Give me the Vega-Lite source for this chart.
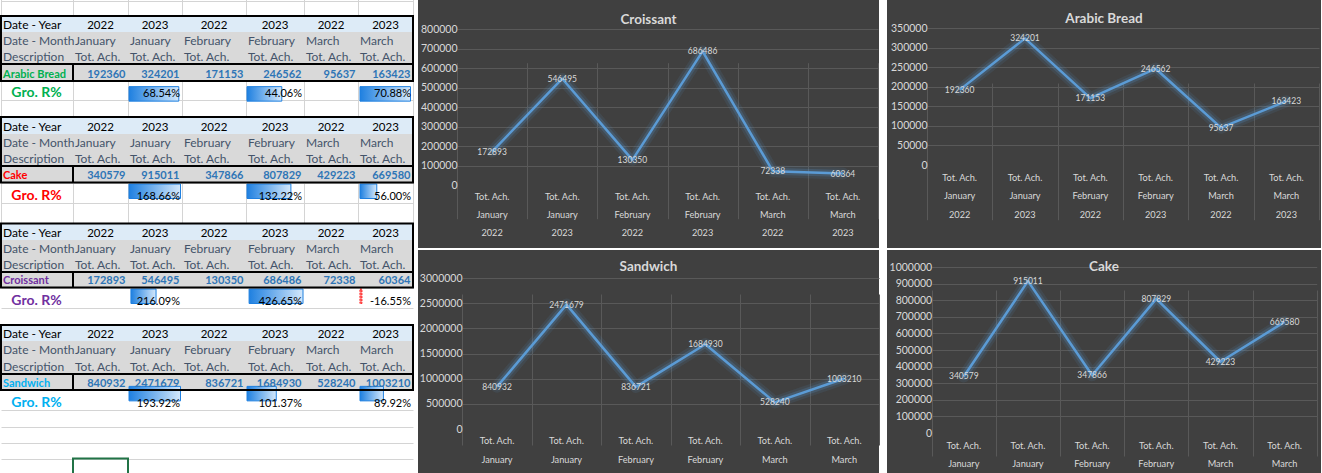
{
  "$schema": "https://vega.github.io/schema/vega-lite/v6.json",
  "background": "#ffffff",
  "padding": 0,
  "columns": 4,
  "spacing": {"row": 2, "column": 0},
  "bounds": "flush",
  "config": {"font": "Lato", "view": {"stroke": null}},
  "datasets": {
    "sales": [
      {"product": "Croissant", "period": "January 2022", "value": 172893},
      {"product": "Croissant", "period": "January 2023", "value": 546495},
      {"product": "Croissant", "period": "February 2022", "value": 130350},
      {"product": "Croissant", "period": "February 2023", "value": 686486},
      {"product": "Croissant", "period": "March 2022", "value": 72338},
      {"product": "Croissant", "period": "March 2023", "value": 60364},
      {"product": "Arabic Bread", "period": "January 2022", "value": 192360},
      {"product": "Arabic Bread", "period": "January 2023", "value": 324201},
      {"product": "Arabic Bread", "period": "February 2022", "value": 171153},
      {"product": "Arabic Bread", "period": "February 2023", "value": 246562},
      {"product": "Arabic Bread", "period": "March 2022", "value": 95637},
      {"product": "Arabic Bread", "period": "March 2023", "value": 163423},
      {"product": "Sandwich", "period": "January 2022", "value": 840932},
      {"product": "Sandwich", "period": "January 2023", "value": 2471679},
      {"product": "Sandwich", "period": "February 2022", "value": 836721},
      {"product": "Sandwich", "period": "February 2023", "value": 1684930},
      {"product": "Sandwich", "period": "March 2022", "value": 528240},
      {"product": "Sandwich", "period": "March 2023", "value": 1003210},
      {"product": "Cake", "period": "January 2022", "value": 340579},
      {"product": "Cake", "period": "January 2023", "value": 915011},
      {"product": "Cake", "period": "February 2022", "value": 347866},
      {"product": "Cake", "period": "February 2023", "value": 807829},
      {"product": "Cake", "period": "March 2022", "value": 429223},
      {"product": "Cake", "period": "March 2023", "value": 669580}
    ],
    "cells": [
      {"row": 2, "col": 1, "text": "Date - Year", "kind": "label"},
      {"row": 2, "col": 2, "text": "2022", "kind": "year"},
      {"row": 2, "col": 3, "text": "2023", "kind": "year"},
      {"row": 2, "col": 4, "text": "2022", "kind": "year"},
      {"row": 2, "col": 5, "text": "2023", "kind": "year"},
      {"row": 2, "col": 6, "text": "2022", "kind": "year"},
      {"row": 2, "col": 7, "text": "2023", "kind": "year"},
      {"row": 3, "col": 1, "text": "Date - Month", "kind": "label"},
      {"row": 3, "col": 2, "text": "January", "kind": "label"},
      {"row": 3, "col": 3, "text": "January", "kind": "label"},
      {"row": 3, "col": 4, "text": "February", "kind": "label"},
      {"row": 3, "col": 5, "text": "February", "kind": "label"},
      {"row": 3, "col": 6, "text": "March", "kind": "label"},
      {"row": 3, "col": 7, "text": "March", "kind": "label"},
      {"row": 4, "col": 1, "text": "Description", "kind": "label"},
      {"row": 4, "col": 2, "text": "Tot. Ach.", "kind": "label"},
      {"row": 4, "col": 3, "text": "Tot. Ach.", "kind": "label"},
      {"row": 4, "col": 4, "text": "Tot. Ach.", "kind": "label"},
      {"row": 4, "col": 5, "text": "Tot. Ach.", "kind": "label"},
      {"row": 4, "col": 6, "text": "Tot. Ach.", "kind": "label"},
      {"row": 4, "col": 7, "text": "Tot. Ach.", "kind": "label"},
      {"row": 5, "col": 1, "text": "Arabic Bread", "kind": "product", "product": "Arabic Bread"},
      {"row": 5, "col": 2, "text": "192360", "kind": "value"},
      {"row": 5, "col": 3, "text": "324201", "kind": "value"},
      {"row": 5, "col": 4, "text": "171153", "kind": "value"},
      {"row": 5, "col": 5, "text": "246562", "kind": "value"},
      {"row": 5, "col": 6, "text": "95637", "kind": "value"},
      {"row": 5, "col": 7, "text": "163423", "kind": "value"},
      {"row": 6, "col": 1, "text": "Gro. R%", "kind": "gro", "product": "Arabic Bread"},
      {"row": 6, "col": 3, "text": "68.54%", "kind": "pct"},
      {"row": 6, "col": 5, "text": "44.06%", "kind": "pct"},
      {"row": 6, "col": 7, "text": "70.88%", "kind": "pct"},
      {"row": 8, "col": 1, "text": "Date - Year", "kind": "label"},
      {"row": 8, "col": 2, "text": "2022", "kind": "year"},
      {"row": 8, "col": 3, "text": "2023", "kind": "year"},
      {"row": 8, "col": 4, "text": "2022", "kind": "year"},
      {"row": 8, "col": 5, "text": "2023", "kind": "year"},
      {"row": 8, "col": 6, "text": "2022", "kind": "year"},
      {"row": 8, "col": 7, "text": "2023", "kind": "year"},
      {"row": 9, "col": 1, "text": "Date - Month", "kind": "label"},
      {"row": 9, "col": 2, "text": "January", "kind": "label"},
      {"row": 9, "col": 3, "text": "January", "kind": "label"},
      {"row": 9, "col": 4, "text": "February", "kind": "label"},
      {"row": 9, "col": 5, "text": "February", "kind": "label"},
      {"row": 9, "col": 6, "text": "March", "kind": "label"},
      {"row": 9, "col": 7, "text": "March", "kind": "label"},
      {"row": 10, "col": 1, "text": "Description", "kind": "label"},
      {"row": 10, "col": 2, "text": "Tot. Ach.", "kind": "label"},
      {"row": 10, "col": 3, "text": "Tot. Ach.", "kind": "label"},
      {"row": 10, "col": 4, "text": "Tot. Ach.", "kind": "label"},
      {"row": 10, "col": 5, "text": "Tot. Ach.", "kind": "label"},
      {"row": 10, "col": 6, "text": "Tot. Ach.", "kind": "label"},
      {"row": 10, "col": 7, "text": "Tot. Ach.", "kind": "label"},
      {"row": 11, "col": 1, "text": "Cake", "kind": "product", "product": "Cake"},
      {"row": 11, "col": 2, "text": "340579", "kind": "value"},
      {"row": 11, "col": 3, "text": "915011", "kind": "value"},
      {"row": 11, "col": 4, "text": "347866", "kind": "value"},
      {"row": 11, "col": 5, "text": "807829", "kind": "value"},
      {"row": 11, "col": 6, "text": "429223", "kind": "value"},
      {"row": 11, "col": 7, "text": "669580", "kind": "value"},
      {"row": 12, "col": 1, "text": "Gro. R%", "kind": "gro", "product": "Cake"},
      {"row": 12, "col": 3, "text": "168.66%", "kind": "pct"},
      {"row": 12, "col": 5, "text": "132.22%", "kind": "pct"},
      {"row": 12, "col": 7, "text": "56.00%", "kind": "pct"},
      {"row": 14, "col": 1, "text": "Date - Year", "kind": "label"},
      {"row": 14, "col": 2, "text": "2022", "kind": "year"},
      {"row": 14, "col": 3, "text": "2023", "kind": "year"},
      {"row": 14, "col": 4, "text": "2022", "kind": "year"},
      {"row": 14, "col": 5, "text": "2023", "kind": "year"},
      {"row": 14, "col": 6, "text": "2022", "kind": "year"},
      {"row": 14, "col": 7, "text": "2023", "kind": "year"},
      {"row": 15, "col": 1, "text": "Date - Month", "kind": "label"},
      {"row": 15, "col": 2, "text": "January", "kind": "label"},
      {"row": 15, "col": 3, "text": "January", "kind": "label"},
      {"row": 15, "col": 4, "text": "February", "kind": "label"},
      {"row": 15, "col": 5, "text": "February", "kind": "label"},
      {"row": 15, "col": 6, "text": "March", "kind": "label"},
      {"row": 15, "col": 7, "text": "March", "kind": "label"},
      {"row": 16, "col": 1, "text": "Description", "kind": "label"},
      {"row": 16, "col": 2, "text": "Tot. Ach.", "kind": "label"},
      {"row": 16, "col": 3, "text": "Tot. Ach.", "kind": "label"},
      {"row": 16, "col": 4, "text": "Tot. Ach.", "kind": "label"},
      {"row": 16, "col": 5, "text": "Tot. Ach.", "kind": "label"},
      {"row": 16, "col": 6, "text": "Tot. Ach.", "kind": "label"},
      {"row": 16, "col": 7, "text": "Tot. Ach.", "kind": "label"},
      {"row": 17, "col": 1, "text": "Croissant", "kind": "product", "product": "Croissant"},
      {"row": 17, "col": 2, "text": "172893", "kind": "value"},
      {"row": 17, "col": 3, "text": "546495", "kind": "value"},
      {"row": 17, "col": 4, "text": "130350", "kind": "value"},
      {"row": 17, "col": 5, "text": "686486", "kind": "value"},
      {"row": 17, "col": 6, "text": "72338", "kind": "value"},
      {"row": 17, "col": 7, "text": "60364", "kind": "value"},
      {"row": 18, "col": 1, "text": "Gro. R%", "kind": "gro", "product": "Croissant"},
      {"row": 18, "col": 3, "text": "216.09%", "kind": "pct"},
      {"row": 18, "col": 5, "text": "426.65%", "kind": "pct"},
      {"row": 18, "col": 7, "text": "-16.55%", "kind": "pct"},
      {"row": 20, "col": 1, "text": "Date - Year", "kind": "label"},
      {"row": 20, "col": 2, "text": "2022", "kind": "year"},
      {"row": 20, "col": 3, "text": "2023", "kind": "year"},
      {"row": 20, "col": 4, "text": "2022", "kind": "year"},
      {"row": 20, "col": 5, "text": "2023", "kind": "year"},
      {"row": 20, "col": 6, "text": "2022", "kind": "year"},
      {"row": 20, "col": 7, "text": "2023", "kind": "year"},
      {"row": 21, "col": 1, "text": "Date - Month", "kind": "label"},
      {"row": 21, "col": 2, "text": "January", "kind": "label"},
      {"row": 21, "col": 3, "text": "January", "kind": "label"},
      {"row": 21, "col": 4, "text": "February", "kind": "label"},
      {"row": 21, "col": 5, "text": "February", "kind": "label"},
      {"row": 21, "col": 6, "text": "March", "kind": "label"},
      {"row": 21, "col": 7, "text": "March", "kind": "label"},
      {"row": 22, "col": 1, "text": "Description", "kind": "label"},
      {"row": 22, "col": 2, "text": "Tot. Ach.", "kind": "label"},
      {"row": 22, "col": 3, "text": "Tot. Ach.", "kind": "label"},
      {"row": 22, "col": 4, "text": "Tot. Ach.", "kind": "label"},
      {"row": 22, "col": 5, "text": "Tot. Ach.", "kind": "label"},
      {"row": 22, "col": 6, "text": "Tot. Ach.", "kind": "label"},
      {"row": 22, "col": 7, "text": "Tot. Ach.", "kind": "label"},
      {"row": 23, "col": 1, "text": "Sandwich", "kind": "product", "product": "Sandwich"},
      {"row": 23, "col": 2, "text": "840932", "kind": "value"},
      {"row": 23, "col": 3, "text": "2471679", "kind": "value"},
      {"row": 23, "col": 4, "text": "836721", "kind": "value"},
      {"row": 23, "col": 5, "text": "1684930", "kind": "value"},
      {"row": 23, "col": 6, "text": "528240", "kind": "value"},
      {"row": 23, "col": 7, "text": "1003210", "kind": "value"},
      {"row": 24, "col": 1, "text": "Gro. R%", "kind": "gro", "product": "Sandwich"},
      {"row": 24, "col": 3, "text": "193.92%", "kind": "pct"},
      {"row": 24, "col": 5, "text": "101.37%", "kind": "pct"},
      {"row": 24, "col": 7, "text": "89.92%", "kind": "pct"}
    ],
    "bars": [
      {"product": "Arabic Bread", "row": 6, "col": 3, "pct": 68.54},
      {"product": "Arabic Bread", "row": 6, "col": 5, "pct": 44.06},
      {"product": "Arabic Bread", "row": 6, "col": 7, "pct": 70.88},
      {"product": "Cake", "row": 12, "col": 3, "pct": 168.66},
      {"product": "Cake", "row": 12, "col": 5, "pct": 132.22},
      {"product": "Cake", "row": 12, "col": 7, "pct": 56.0},
      {"product": "Croissant", "row": 18, "col": 3, "pct": 216.09},
      {"product": "Croissant", "row": 18, "col": 5, "pct": 426.65},
      {"product": "Croissant", "row": 18, "col": 7, "pct": -16.55},
      {"product": "Sandwich", "row": 24, "col": 3, "pct": 193.92},
      {"product": "Sandwich", "row": 24, "col": 5, "pct": 101.37},
      {"product": "Sandwich", "row": 24, "col": 7, "pct": 89.92}
    ],
    "ranges": [
      {"kind": "yearRow", "c1": 1, "c2": 8, "r1": 2, "r2": 3},
      {"kind": "bodyRow", "c1": 1, "c2": 8, "r1": 3, "r2": 6},
      {"kind": "box", "c1": 1, "c2": 8, "r1": 2, "r2": 6},
      {"kind": "line", "c1": 1, "c2": 8, "r1": 5, "r2": 5},
      {"kind": "line", "c1": 2, "c2": 2, "r1": 5, "r2": 6},
      {"kind": "yearRow", "c1": 1, "c2": 8, "r1": 8, "r2": 9},
      {"kind": "bodyRow", "c1": 1, "c2": 8, "r1": 9, "r2": 12},
      {"kind": "box", "c1": 1, "c2": 8, "r1": 8, "r2": 12},
      {"kind": "line", "c1": 1, "c2": 8, "r1": 11, "r2": 11},
      {"kind": "line", "c1": 2, "c2": 2, "r1": 11, "r2": 12},
      {"kind": "yearRow", "c1": 1, "c2": 8, "r1": 14, "r2": 15},
      {"kind": "bodyRow", "c1": 1, "c2": 8, "r1": 15, "r2": 18},
      {"kind": "box", "c1": 1, "c2": 8, "r1": 14, "r2": 18},
      {"kind": "line", "c1": 1, "c2": 8, "r1": 17, "r2": 17},
      {"kind": "line", "c1": 2, "c2": 2, "r1": 17, "r2": 18},
      {"kind": "yearRow", "c1": 1, "c2": 8, "r1": 20, "r2": 21},
      {"kind": "bodyRow", "c1": 1, "c2": 8, "r1": 21, "r2": 24},
      {"kind": "box", "c1": 1, "c2": 8, "r1": 20, "r2": 24},
      {"kind": "line", "c1": 1, "c2": 8, "r1": 23, "r2": 23},
      {"kind": "line", "c1": 2, "c2": 2, "r1": 23, "r2": 24},
      {"kind": "selected", "c1": 2, "c2": 3, "r1": 28, "r2": 29}
    ]
  },
  "concat": [
    {
      "width": 418,
      "height": 248,
      "resolve": {"scale": {"x": "independent", "y": "independent", "color": "independent"}},
      "layer": [
        {
          "data": {"name": "ranges"},
          "transform": [{"filter": "datum.kind === 'yearRow' || datum.kind === 'bodyRow'"}],
          "mark": {"type": "rect"},
          "encoding": {
            "x": {"field": "c1", "type": "quantitative", "scale": {"domain": [1, 2, 3, 4, 5, 6, 7, 8], "range": [1, 73, 128, 182, 246, 304, 358, 413], "nice": false, "zero": false},
                  "axis": {"values": [1, 2, 3, 4, 5, 6, 7, 8], "grid": true, "gridColor": "#d4d4d4", "labels": false, "ticks": false, "domain": false, "title": null}},
            "x2": {"field": "c2"},
            "y": {"field": "r1", "type": "quantitative", "scale": {"domain": [1, 2, 3, 4, 5, 6, 7, 8, 9, 10, 11, 12, 13, 14, 15, 16, 17, 18, 19, 20, 21, 22, 23, 24, 25, 26, 27, 28, 29], "range": [0.5, 16, 32, 48, 64, 81, 100, 117, 134, 150, 166, 182.5, 203, 223.5, 240, 256.5, 272, 287.5, 308, 325, 341, 357.5, 374, 390, 410, 426.5, 442.5, 458.5, 475], "nice": false, "zero": false},
                  "axis": {"values": [1, 2, 3, 4, 5, 6, 7, 8, 9, 10, 11, 12, 13, 14, 15, 16, 17, 18, 19, 20, 21, 22, 23, 24, 25, 26, 27, 28, 29], "grid": true, "gridColor": "#d4d4d4", "labels": false, "ticks": false, "domain": false, "title": null}},
            "y2": {"field": "r2"},
            "color": {"field": "kind", "type": "nominal", "scale": {"domain": ["yearRow", "bodyRow"], "range": ["#ddebf7", "#d9d9d9"]}, "legend": null}
          }
        },
        {
          "data": {"name": "bars"},
          "transform": [{"filter": "datum.product === 'Arabic Bread' && datum.col === 3"}],
          "mark": {"type": "bar", "orient": "horizontal", "height": 14.5, "yOffset": -1.5, "stroke": "#1f80e0", "strokeWidth": 1, "fill": {"gradient": "linear", "x1": 0, "y1": 0, "x2": 1, "y2": 0, "stops": [{"offset": 0, "color": "#1f80e0"}, {"offset": 1, "color": "#d4e8fb"}]}},
          "encoding": {
            "x": {"field": "pct", "type": "quantitative", "scale": {"domain": [0, 70.88], "range": [129, 180.5], "nice": false, "zero": false}, "axis": null},
            "x2": {"datum": 0},
            "y": {"field": "row", "type": "quantitative", "scale": {"domain": [6, 12, 18, 24], "range": [90.5, 192.75, 297.75, 400], "nice": false, "zero": false}, "axis": null}
          }
        },
        {
          "data": {"name": "bars"},
          "transform": [{"filter": "datum.product === 'Arabic Bread' && datum.col === 5"}],
          "mark": {"type": "bar", "orient": "horizontal", "height": 14.5, "yOffset": -1.5, "stroke": "#1f80e0", "strokeWidth": 1, "fill": {"gradient": "linear", "x1": 0, "y1": 0, "x2": 1, "y2": 0, "stops": [{"offset": 0, "color": "#1f80e0"}, {"offset": 1, "color": "#d4e8fb"}]}},
          "encoding": {
            "x": {"field": "pct", "type": "quantitative", "scale": {"domain": [0, 70.88], "range": [247, 303], "nice": false, "zero": false}, "axis": null},
            "x2": {"datum": 0},
            "y": {"field": "row", "type": "quantitative", "scale": {"domain": [6, 12, 18, 24], "range": [90.5, 192.75, 297.75, 400], "nice": false, "zero": false}, "axis": null}
          }
        },
        {
          "data": {"name": "bars"},
          "transform": [{"filter": "datum.product === 'Arabic Bread' && datum.col === 7"}],
          "mark": {"type": "bar", "orient": "horizontal", "height": 14.5, "yOffset": -1.5, "stroke": "#1f80e0", "strokeWidth": 1, "fill": {"gradient": "linear", "x1": 0, "y1": 0, "x2": 1, "y2": 0, "stops": [{"offset": 0, "color": "#1f80e0"}, {"offset": 1, "color": "#d4e8fb"}]}},
          "encoding": {
            "x": {"field": "pct", "type": "quantitative", "scale": {"domain": [0, 70.88], "range": [360, 410.5], "nice": false, "zero": false}, "axis": null},
            "x2": {"datum": 0},
            "y": {"field": "row", "type": "quantitative", "scale": {"domain": [6, 12, 18, 24], "range": [90.5, 192.75, 297.75, 400], "nice": false, "zero": false}, "axis": null}
          }
        },
        {
          "data": {"name": "bars"},
          "transform": [{"filter": "datum.product === 'Cake' && datum.col === 3"}],
          "mark": {"type": "bar", "orient": "horizontal", "height": 14.5, "yOffset": -1.5, "stroke": "#1f80e0", "strokeWidth": 1, "fill": {"gradient": "linear", "x1": 0, "y1": 0, "x2": 1, "y2": 0, "stops": [{"offset": 0, "color": "#1f80e0"}, {"offset": 1, "color": "#d4e8fb"}]}},
          "encoding": {
            "x": {"field": "pct", "type": "quantitative", "scale": {"domain": [0, 168.66], "range": [129, 180.5], "nice": false, "zero": false}, "axis": null},
            "x2": {"datum": 0},
            "y": {"field": "row", "type": "quantitative", "scale": {"domain": [6, 12, 18, 24], "range": [90.5, 192.75, 297.75, 400], "nice": false, "zero": false}, "axis": null}
          }
        },
        {
          "data": {"name": "bars"},
          "transform": [{"filter": "datum.product === 'Cake' && datum.col === 5"}],
          "mark": {"type": "bar", "orient": "horizontal", "height": 14.5, "yOffset": -1.5, "stroke": "#1f80e0", "strokeWidth": 1, "fill": {"gradient": "linear", "x1": 0, "y1": 0, "x2": 1, "y2": 0, "stops": [{"offset": 0, "color": "#1f80e0"}, {"offset": 1, "color": "#d4e8fb"}]}},
          "encoding": {
            "x": {"field": "pct", "type": "quantitative", "scale": {"domain": [0, 168.66], "range": [247, 303], "nice": false, "zero": false}, "axis": null},
            "x2": {"datum": 0},
            "y": {"field": "row", "type": "quantitative", "scale": {"domain": [6, 12, 18, 24], "range": [90.5, 192.75, 297.75, 400], "nice": false, "zero": false}, "axis": null}
          }
        },
        {
          "data": {"name": "bars"},
          "transform": [{"filter": "datum.product === 'Cake' && datum.col === 7"}],
          "mark": {"type": "bar", "orient": "horizontal", "height": 14.5, "yOffset": -1.5, "stroke": "#1f80e0", "strokeWidth": 1, "fill": {"gradient": "linear", "x1": 0, "y1": 0, "x2": 1, "y2": 0, "stops": [{"offset": 0, "color": "#1f80e0"}, {"offset": 1, "color": "#d4e8fb"}]}},
          "encoding": {
            "x": {"field": "pct", "type": "quantitative", "scale": {"domain": [0, 168.66], "range": [360, 410.5], "nice": false, "zero": false}, "axis": null},
            "x2": {"datum": 0},
            "y": {"field": "row", "type": "quantitative", "scale": {"domain": [6, 12, 18, 24], "range": [90.5, 192.75, 297.75, 400], "nice": false, "zero": false}, "axis": null}
          }
        },
        {
          "data": {"name": "bars"},
          "transform": [{"filter": "datum.product === 'Croissant' && datum.col === 3"}],
          "mark": {"type": "bar", "orient": "horizontal", "height": 14.5, "yOffset": -1.5, "stroke": "#1f80e0", "strokeWidth": 1, "fill": {"gradient": "linear", "x1": 0, "y1": 0, "x2": 1, "y2": 0, "stops": [{"offset": 0, "color": "#1f80e0"}, {"offset": 1, "color": "#d4e8fb"}]}},
          "encoding": {
            "x": {"field": "pct", "type": "quantitative", "scale": {"domain": [-16.55, 426.65], "range": [129, 180.5], "nice": false, "zero": false}, "axis": null},
            "x2": {"datum": 0},
            "y": {"field": "row", "type": "quantitative", "scale": {"domain": [6, 12, 18, 24], "range": [90.5, 192.75, 297.75, 400], "nice": false, "zero": false}, "axis": null}
          }
        },
        {
          "data": {"name": "bars"},
          "transform": [{"filter": "datum.product === 'Croissant' && datum.col === 5"}],
          "mark": {"type": "bar", "orient": "horizontal", "height": 14.5, "yOffset": -1.5, "stroke": "#1f80e0", "strokeWidth": 1, "fill": {"gradient": "linear", "x1": 0, "y1": 0, "x2": 1, "y2": 0, "stops": [{"offset": 0, "color": "#1f80e0"}, {"offset": 1, "color": "#d4e8fb"}]}},
          "encoding": {
            "x": {"field": "pct", "type": "quantitative", "scale": {"domain": [-16.55, 426.65], "range": [247, 303], "nice": false, "zero": false}, "axis": null},
            "x2": {"datum": 0},
            "y": {"field": "row", "type": "quantitative", "scale": {"domain": [6, 12, 18, 24], "range": [90.5, 192.75, 297.75, 400], "nice": false, "zero": false}, "axis": null}
          }
        },
        {
          "data": {"name": "bars"},
          "transform": [{"filter": "datum.product === 'Croissant' && datum.col === 7"}],
          "mark": {"type": "bar", "orient": "horizontal", "height": 14.5, "yOffset": -1.5, "stroke": "#ff0000", "strokeWidth": 1, "strokeDash": [2, 1], "fill": "#ff9999"},
          "encoding": {
            "x": {"field": "pct", "type": "quantitative", "scale": {"domain": [-16.55, 426.65], "range": [360, 410.5], "nice": false, "zero": false}, "axis": null},
            "x2": {"datum": 0},
            "y": {"field": "row", "type": "quantitative", "scale": {"domain": [6, 12, 18, 24], "range": [90.5, 192.75, 297.75, 400], "nice": false, "zero": false}, "axis": null}
          }
        },
        {
          "data": {"name": "bars"},
          "transform": [{"filter": "datum.product === 'Sandwich' && datum.col === 3"}],
          "mark": {"type": "bar", "orient": "horizontal", "height": 14.5, "yOffset": -1.5, "stroke": "#1f80e0", "strokeWidth": 1, "fill": {"gradient": "linear", "x1": 0, "y1": 0, "x2": 1, "y2": 0, "stops": [{"offset": 0, "color": "#1f80e0"}, {"offset": 1, "color": "#d4e8fb"}]}},
          "encoding": {
            "x": {"field": "pct", "type": "quantitative", "scale": {"domain": [0, 193.92], "range": [129, 180.5], "nice": false, "zero": false}, "axis": null},
            "x2": {"datum": 0},
            "y": {"field": "row", "type": "quantitative", "scale": {"domain": [6, 12, 18, 24], "range": [90.5, 192.75, 297.75, 400], "nice": false, "zero": false}, "axis": null}
          }
        },
        {
          "data": {"name": "bars"},
          "transform": [{"filter": "datum.product === 'Sandwich' && datum.col === 5"}],
          "mark": {"type": "bar", "orient": "horizontal", "height": 14.5, "yOffset": -1.5, "stroke": "#1f80e0", "strokeWidth": 1, "fill": {"gradient": "linear", "x1": 0, "y1": 0, "x2": 1, "y2": 0, "stops": [{"offset": 0, "color": "#1f80e0"}, {"offset": 1, "color": "#d4e8fb"}]}},
          "encoding": {
            "x": {"field": "pct", "type": "quantitative", "scale": {"domain": [0, 193.92], "range": [247, 303], "nice": false, "zero": false}, "axis": null},
            "x2": {"datum": 0},
            "y": {"field": "row", "type": "quantitative", "scale": {"domain": [6, 12, 18, 24], "range": [90.5, 192.75, 297.75, 400], "nice": false, "zero": false}, "axis": null}
          }
        },
        {
          "data": {"name": "bars"},
          "transform": [{"filter": "datum.product === 'Sandwich' && datum.col === 7"}],
          "mark": {"type": "bar", "orient": "horizontal", "height": 14.5, "yOffset": -1.5, "stroke": "#1f80e0", "strokeWidth": 1, "fill": {"gradient": "linear", "x1": 0, "y1": 0, "x2": 1, "y2": 0, "stops": [{"offset": 0, "color": "#1f80e0"}, {"offset": 1, "color": "#d4e8fb"}]}},
          "encoding": {
            "x": {"field": "pct", "type": "quantitative", "scale": {"domain": [0, 193.92], "range": [360, 410.5], "nice": false, "zero": false}, "axis": null},
            "x2": {"datum": 0},
            "y": {"field": "row", "type": "quantitative", "scale": {"domain": [6, 12, 18, 24], "range": [90.5, 192.75, 297.75, 400], "nice": false, "zero": false}, "axis": null}
          }
        },
        {
          "data": {"name": "ranges"},
          "transform": [{"filter": "datum.kind === 'box'"}],
          "mark": {"type": "rect", "filled": false, "stroke": "#000000", "strokeWidth": 2},
          "encoding": {
            "x": {"field": "c1", "type": "quantitative", "scale": {"domain": [1, 2, 3, 4, 5, 6, 7, 8], "range": [1, 73, 128, 182, 246, 304, 358, 413], "nice": false, "zero": false}, "axis": null},
            "x2": {"field": "c2"},
            "y": {"field": "r1", "type": "quantitative", "scale": {"domain": [1, 2, 3, 4, 5, 6, 7, 8, 9, 10, 11, 12, 13, 14, 15, 16, 17, 18, 19, 20, 21, 22, 23, 24, 25, 26, 27, 28, 29], "range": [0.5, 16, 32, 48, 64, 81, 100, 117, 134, 150, 166, 182.5, 203, 223.5, 240, 256.5, 272, 287.5, 308, 325, 341, 357.5, 374, 390, 410, 426.5, 442.5, 458.5, 475], "nice": false, "zero": false}, "axis": null},
            "y2": {"field": "r2"}
          }
        },
        {
          "data": {"name": "ranges"},
          "transform": [{"filter": "datum.kind === 'line'"}],
          "mark": {"type": "rule", "color": "#000000", "strokeWidth": 2},
          "encoding": {
            "x": {"field": "c1", "type": "quantitative", "scale": {"domain": [1, 2, 3, 4, 5, 6, 7, 8], "range": [1, 73, 128, 182, 246, 304, 358, 413], "nice": false, "zero": false}, "axis": null},
            "x2": {"field": "c2"},
            "y": {"field": "r1", "type": "quantitative", "scale": {"domain": [1, 2, 3, 4, 5, 6, 7, 8, 9, 10, 11, 12, 13, 14, 15, 16, 17, 18, 19, 20, 21, 22, 23, 24, 25, 26, 27, 28, 29], "range": [0.5, 16, 32, 48, 64, 81, 100, 117, 134, 150, 166, 182.5, 203, 223.5, 240, 256.5, 272, 287.5, 308, 325, 341, 357.5, 374, 390, 410, 426.5, 442.5, 458.5, 475], "nice": false, "zero": false}, "axis": null},
            "y2": {"field": "r2"}
          }
        },
        {
          "data": {"name": "ranges"},
          "transform": [{"filter": "datum.kind === 'selected'"}],
          "mark": {"type": "rect", "filled": false, "stroke": "#217346", "strokeWidth": 2},
          "encoding": {
            "x": {"field": "c1", "type": "quantitative", "scale": {"domain": [1, 2, 3, 4, 5, 6, 7, 8], "range": [1, 73, 128, 182, 246, 304, 358, 413], "nice": false, "zero": false}, "axis": null},
            "x2": {"field": "c2"},
            "y": {"field": "r1", "type": "quantitative", "scale": {"domain": [1, 2, 3, 4, 5, 6, 7, 8, 9, 10, 11, 12, 13, 14, 15, 16, 17, 18, 19, 20, 21, 22, 23, 24, 25, 26, 27, 28, 29], "range": [0.5, 16, 32, 48, 64, 81, 100, 117, 134, 150, 166, 182.5, 203, 223.5, 240, 256.5, 272, 287.5, 308, 325, 341, 357.5, 374, 390, 410, 426.5, 442.5, 458.5, 475], "nice": false, "zero": false}, "axis": null},
            "y2": {"field": "r2"}
          }
        },
        {
          "data": {"name": "cells"},
          "transform": [{"filter": "datum.kind === 'label'"}],
          "mark": {"type": "text", "align": "left", "baseline": "alphabetic", "dx": 2, "dy": -3.5, "fontSize": 12},
          "encoding": {
            "x": {"field": "col", "type": "quantitative", "scale": {"domain": [1, 2, 3, 4, 5, 6, 7, 8], "range": [1, 73, 128, 182, 246, 304, 358, 413], "nice": false, "zero": false}, "axis": null},
            "y": {"field": "row", "type": "quantitative", "scale": {"domain": [1, 2, 3, 4, 5, 6, 7, 8, 9, 10, 11, 12, 13, 14, 15, 16, 17, 18, 19, 20, 21, 22, 23, 24, 25, 26, 27, 28], "range": [16, 32, 48, 64, 81, 100, 117, 134, 150, 166, 182.5, 203, 223.5, 240, 256.5, 272, 287.5, 308, 325, 341, 357.5, 374, 390, 410, 426.5, 442.5, 458.5, 475], "nice": false, "zero": false}, "axis": null},
            "text": {"field": "text", "type": "nominal"},
            "color": {"condition": {"test": "datum.text === 'Date - Year'", "value": "#000000"}, "value": "#44546a"}
          }
        },
        {
          "data": {"name": "cells"},
          "transform": [{"filter": "datum.kind === 'year'"}],
          "mark": {"type": "text", "align": "center", "baseline": "alphabetic", "dy": -3.5, "fontSize": 11.5, "color": "#000000"},
          "encoding": {
            "x": {"field": "col", "type": "quantitative", "scale": {"domain": [1, 2, 3, 4, 5, 6, 7], "range": [36.5, 100.5, 155, 214, 275, 331, 385.5], "nice": false, "zero": false}, "axis": null},
            "y": {"field": "row", "type": "quantitative", "scale": {"domain": [1, 2, 3, 4, 5, 6, 7, 8, 9, 10, 11, 12, 13, 14, 15, 16, 17, 18, 19, 20, 21, 22, 23, 24, 25, 26, 27, 28], "range": [16, 32, 48, 64, 81, 100, 117, 134, 150, 166, 182.5, 203, 223.5, 240, 256.5, 272, 287.5, 308, 325, 341, 357.5, 374, 390, 410, 426.5, 442.5, 458.5, 475], "nice": false, "zero": false}, "axis": null},
            "text": {"field": "text", "type": "nominal"}
          }
        },
        {
          "data": {"name": "cells"},
          "transform": [{"filter": "datum.kind === 'product'"}],
          "mark": {"type": "text", "align": "left", "baseline": "alphabetic", "dx": 2, "dy": -3.5, "fontSize": 11, "fontWeight": "bold"},
          "encoding": {
            "x": {"field": "col", "type": "quantitative", "scale": {"domain": [1, 2, 3, 4, 5, 6, 7, 8], "range": [1, 73, 128, 182, 246, 304, 358, 413], "nice": false, "zero": false}, "axis": null},
            "y": {"field": "row", "type": "quantitative", "scale": {"domain": [1, 2, 3, 4, 5, 6, 7, 8, 9, 10, 11, 12, 13, 14, 15, 16, 17, 18, 19, 20, 21, 22, 23, 24, 25, 26, 27, 28], "range": [16, 32, 48, 64, 81, 100, 117, 134, 150, 166, 182.5, 203, 223.5, 240, 256.5, 272, 287.5, 308, 325, 341, 357.5, 374, 390, 410, 426.5, 442.5, 458.5, 475], "nice": false, "zero": false}, "axis": null},
            "text": {"field": "text", "type": "nominal"},
            "color": {"field": "product", "type": "nominal", "scale": {"domain": ["Arabic Bread", "Cake", "Croissant", "Sandwich"], "range": ["#00b050", "#ff0000", "#7030a0", "#00b0f0"]}, "legend": null}
          }
        },
        {
          "data": {"name": "cells"},
          "transform": [{"filter": "datum.kind === 'value'"}],
          "mark": {"type": "text", "align": "right", "baseline": "alphabetic", "dx": -2.5, "dy": -3.5, "fontSize": 11, "fontWeight": "bold", "color": "#2e75b6"},
          "encoding": {
            "x": {"field": "col", "type": "quantitative", "scale": {"domain": [1, 2, 3, 4, 5, 6, 7], "range": [73, 128, 182, 246, 304, 358, 413], "nice": false, "zero": false}, "axis": null},
            "y": {"field": "row", "type": "quantitative", "scale": {"domain": [1, 2, 3, 4, 5, 6, 7, 8, 9, 10, 11, 12, 13, 14, 15, 16, 17, 18, 19, 20, 21, 22, 23, 24, 25, 26, 27, 28], "range": [16, 32, 48, 64, 81, 100, 117, 134, 150, 166, 182.5, 203, 223.5, 240, 256.5, 272, 287.5, 308, 325, 341, 357.5, 374, 390, 410, 426.5, 442.5, 458.5, 475], "nice": false, "zero": false}, "axis": null},
            "text": {"field": "text", "type": "nominal"}
          }
        },
        {
          "data": {"name": "cells"},
          "transform": [{"filter": "datum.kind === 'gro'"}],
          "mark": {"type": "text", "align": "center", "baseline": "alphabetic", "dy": -3.5, "fontSize": 14, "fontWeight": "bold"},
          "encoding": {
            "x": {"field": "col", "type": "quantitative", "scale": {"domain": [1, 2, 3, 4, 5, 6, 7], "range": [36.5, 100.5, 155, 214, 275, 331, 385.5], "nice": false, "zero": false}, "axis": null},
            "y": {"field": "row", "type": "quantitative", "scale": {"domain": [1, 2, 3, 4, 5, 6, 7, 8, 9, 10, 11, 12, 13, 14, 15, 16, 17, 18, 19, 20, 21, 22, 23, 24, 25, 26, 27, 28], "range": [16, 32, 48, 64, 81, 100, 117, 134, 150, 166, 182.5, 203, 223.5, 240, 256.5, 272, 287.5, 308, 325, 341, 357.5, 374, 390, 410, 426.5, 442.5, 458.5, 475], "nice": false, "zero": false}, "axis": null},
            "text": {"field": "text", "type": "nominal"},
            "color": {"field": "product", "type": "nominal", "scale": {"domain": ["Arabic Bread", "Cake", "Croissant", "Sandwich"], "range": ["#00b050", "#ff0000", "#7030a0", "#00b0f0"]}, "legend": null}
          }
        },
        {
          "data": {"name": "cells"},
          "transform": [{"filter": "datum.kind === 'pct'"}],
          "mark": {"type": "text", "align": "right", "baseline": "alphabetic", "dx": -2, "dy": -3.5, "fontSize": 11, "color": "#000000"},
          "encoding": {
            "x": {"field": "col", "type": "quantitative", "scale": {"domain": [1, 2, 3, 4, 5, 6, 7], "range": [73, 128, 182, 246, 304, 358, 413], "nice": false, "zero": false}, "axis": null},
            "y": {"field": "row", "type": "quantitative", "scale": {"domain": [1, 2, 3, 4, 5, 6, 7, 8, 9, 10, 11, 12, 13, 14, 15, 16, 17, 18, 19, 20, 21, 22, 23, 24, 25, 26, 27, 28], "range": [16, 32, 48, 64, 81, 100, 117, 134, 150, 166, 182.5, 203, 223.5, 240, 256.5, 272, 287.5, 308, 325, 341, 357.5, 374, 390, 410, 426.5, 442.5, 458.5, 475], "nice": false, "zero": false}, "axis": null},
            "text": {"field": "text", "type": "nominal"}
          }
        }
      ]
    },
    {
      "width": 461,
      "height": 248,
      "view": {"fill": "#404040", "stroke": null},
      "title": {"text": "Croissant", "anchor": "middle", "frame": "group", "offset": -33, "baseline": "middle", "fontSize": 13.5, "fontWeight": "bold", "color": "#d9d9d9", "font": "Lato"},
      "data": {"name": "sales"},
      "transform": [{"filter": "datum.product === 'Croissant'"}],
      "resolve": {"axis": {"x": "independent"}},
      "encoding": {
        "y": {"field": "value", "type": "quantitative",
              "scale": {"domain": [0, 800000], "range": [185.3, 29.3], "nice": false, "zero": false},
              "axis": {"orient": "left", "offset": -40, "title": null, "domain": false, "ticks": false, "grid": true, "gridColor": "#595959", "gridWidth": 1, "gridOpacity": {"condition": {"test": "datum.value === 0", "value": 0}, "value": 1}, "values": [0, 100000, 200000, 300000, 400000, 500000, 600000, 700000, 800000], "format": "d", "labelColor": "#d9d9d9", "labelFont": "Lato", "labelFontSize": 10.5, "labelPadding": 1, "labelOverlap": false, "labelBound": false, "labelFlush": false}}
      },
      "layer": [
        {"mark": {"type": "line", "color": "#5b9bd5", "strokeWidth": 12, "opacity": 0.1, "strokeJoin": "round", "strokeCap": "round"},
         "encoding": {"x": {"field": "period", "type": "nominal", "sort": ["January 2022", "January 2023", "February 2022", "February 2023", "March 2022", "March 2023"], "scale": {"type": "band", "range": [39, 460], "paddingInner": 0, "paddingOuter": 0},
                            "axis": {"orient": "bottom", "title": null, "domain": false, "ticks": false, "labels": false, "grid": true, "gridColor": "#595959", "gridWidth": 1, "tickBand": "extent"}}}},
        {"mark": {"type": "line", "color": "#5b9bd5", "strokeWidth": 7, "opacity": 0.2, "strokeJoin": "round", "strokeCap": "round"},
         "encoding": {"x": {"field": "period", "type": "nominal", "sort": ["January 2022", "January 2023", "February 2022", "February 2023", "March 2022", "March 2023"], "scale": {"type": "band", "range": [39, 460], "paddingInner": 0, "paddingOuter": 0}, "axis": null}}},
        {"mark": {"type": "line", "color": "#5b9bd5", "strokeWidth": 2.5, "strokeJoin": "round"},
         "encoding": {"x": {"field": "period", "type": "nominal", "sort": ["January 2022", "January 2023", "February 2022", "February 2023", "March 2022", "March 2023"], "scale": {"type": "band", "range": [39, 460], "paddingInner": 0, "paddingOuter": 0},
                            "axis": {"orient": "bottom", "offset": -55.8, "title": null, "domain": false, "ticks": false, "grid": false, "labelAngle": 0, "labelColor": "#d9d9d9", "labelFont": "Lato", "labelFontSize": 9.2, "labelBaseline": "top", "labelPadding": 0, "labelLineHeight": 18.3, "labelOverlap": false, "labelBound": false, "labelFlush": false, "labelExpr": "['Tot. Ach.', split(datum.value, ' ')[0], split(datum.value, ' ')[1]]"}}}},
        {"mark": {"type": "text", "color": "#d9d9d9", "fontSize": 8.5},
         "encoding": {"x": {"field": "period", "type": "nominal", "sort": ["January 2022", "January 2023", "February 2022", "February 2023", "March 2022", "March 2023"], "scale": {"type": "band", "range": [39, 460], "paddingInner": 0, "paddingOuter": 0}, "axis": null},
                      "text": {"field": "value", "type": "quantitative", "format": "d"}}}
      ]
    },
    {"width": 8, "height": 248, "data": {"values": [{"k": 1}]}, "mark": {"type": "text", "text": ""}, "encoding": {}},
    {
      "width": 434,
      "height": 248,
      "view": {"fill": "#404040", "stroke": null},
      "title": {"text": "Arabic Bread", "anchor": "middle", "frame": "group", "offset": -32.3, "baseline": "middle", "fontSize": 13.5, "fontWeight": "bold", "color": "#d9d9d9", "font": "Lato"},
      "data": {"name": "sales"},
      "transform": [{"filter": "datum.product === 'Arabic Bread'"}],
      "resolve": {"axis": {"x": "independent"}},
      "encoding": {
        "y": {"field": "value", "type": "quantitative",
              "scale": {"domain": [0, 350000], "range": [165, 28.3], "nice": false, "zero": false},
              "axis": {"orient": "left", "offset": -41, "title": null, "domain": false, "ticks": false, "grid": true, "gridColor": "#595959", "gridWidth": 1, "gridOpacity": {"condition": {"test": "datum.value === 0", "value": 0}, "value": 1}, "values": [0, 50000, 100000, 150000, 200000, 250000, 300000, 350000], "format": "d", "labelColor": "#d9d9d9", "labelFont": "Lato", "labelFontSize": 10.5, "labelPadding": 1, "labelOverlap": false, "labelBound": false, "labelFlush": false}}
      },
      "layer": [
        {"mark": {"type": "line", "color": "#5b9bd5", "strokeWidth": 12, "opacity": 0.1, "strokeJoin": "round", "strokeCap": "round"},
         "encoding": {"x": {"field": "period", "type": "nominal", "sort": ["January 2022", "January 2023", "February 2022", "February 2023", "March 2022", "March 2023"], "scale": {"type": "band", "range": [40, 432], "paddingInner": 0, "paddingOuter": 0},
                            "axis": {"orient": "bottom", "title": null, "domain": false, "ticks": false, "labels": false, "grid": true, "gridColor": "#595959", "gridWidth": 1, "tickBand": "extent"}}}},
        {"mark": {"type": "line", "color": "#5b9bd5", "strokeWidth": 7, "opacity": 0.2, "strokeJoin": "round", "strokeCap": "round"},
         "encoding": {"x": {"field": "period", "type": "nominal", "sort": ["January 2022", "January 2023", "February 2022", "February 2023", "March 2022", "March 2023"], "scale": {"type": "band", "range": [40, 432], "paddingInner": 0, "paddingOuter": 0}, "axis": null}}},
        {"mark": {"type": "line", "color": "#5b9bd5", "strokeWidth": 2.5, "strokeJoin": "round"},
         "encoding": {"x": {"field": "period", "type": "nominal", "sort": ["January 2022", "January 2023", "February 2022", "February 2023", "March 2022", "March 2023"], "scale": {"type": "band", "range": [40, 432], "paddingInner": 0, "paddingOuter": 0},
                            "axis": {"orient": "bottom", "offset": -74.8, "title": null, "domain": false, "ticks": false, "grid": false, "labelAngle": 0, "labelColor": "#d9d9d9", "labelFont": "Lato", "labelFontSize": 9.2, "labelBaseline": "top", "labelPadding": 0, "labelLineHeight": 18.6, "labelOverlap": false, "labelBound": false, "labelFlush": false, "labelExpr": "['Tot. Ach.', split(datum.value, ' ')[0], split(datum.value, ' ')[1]]"}}}},
        {"mark": {"type": "text", "color": "#d9d9d9", "fontSize": 8.5},
         "encoding": {"x": {"field": "period", "type": "nominal", "sort": ["January 2022", "January 2023", "February 2022", "February 2023", "March 2022", "March 2023"], "scale": {"type": "band", "range": [40, 432], "paddingInner": 0, "paddingOuter": 0}, "axis": null},
                      "text": {"field": "value", "type": "quantitative", "format": "d"}}}
      ]
    },
    {"width": 418, "height": 223, "data": {"values": [{"k": 1}]}, "mark": {"type": "text", "text": ""}, "encoding": {}},
    {
      "width": 461,
      "height": 223,
      "view": {"fill": "#404040", "stroke": null},
      "title": {"text": "Sandwich", "anchor": "middle", "frame": "group", "offset": -30.3, "baseline": "middle", "fontSize": 13.5, "fontWeight": "bold", "color": "#d9d9d9", "font": "Lato"},
      "data": {"name": "sales"},
      "transform": [{"filter": "datum.product === 'Sandwich'"}],
      "resolve": {"axis": {"x": "independent"}},
      "encoding": {
        "y": {"field": "value", "type": "quantitative",
              "scale": {"domain": [0, 3000000], "range": [179, 28], "nice": false, "zero": false},
              "axis": {"orient": "left", "offset": -45, "title": null, "domain": false, "ticks": false, "grid": true, "gridColor": "#595959", "gridWidth": 1, "gridOpacity": {"condition": {"test": "datum.value === 0", "value": 0}, "value": 1}, "values": [0, 500000, 1000000, 1500000, 2000000, 2500000, 3000000], "format": "d", "labelColor": "#d9d9d9", "labelFont": "Lato", "labelFontSize": 10.5, "labelPadding": 1, "labelOverlap": false, "labelBound": false, "labelFlush": false}}
      },
      "layer": [
        {"mark": {"type": "line", "color": "#5b9bd5", "strokeWidth": 12, "opacity": 0.1, "strokeJoin": "round", "strokeCap": "round"},
         "encoding": {"x": {"field": "period", "type": "nominal", "sort": ["January 2022", "January 2023", "February 2022", "February 2023", "March 2022", "March 2023"], "scale": {"type": "band", "range": [44.3, 461], "paddingInner": 0, "paddingOuter": 0},
                            "axis": {"orient": "bottom", "title": null, "domain": false, "ticks": false, "labels": false, "grid": true, "gridColor": "#595959", "gridWidth": 1, "tickBand": "extent"}}}},
        {"mark": {"type": "line", "color": "#5b9bd5", "strokeWidth": 7, "opacity": 0.2, "strokeJoin": "round", "strokeCap": "round"},
         "encoding": {"x": {"field": "period", "type": "nominal", "sort": ["January 2022", "January 2023", "February 2022", "February 2023", "March 2022", "March 2023"], "scale": {"type": "band", "range": [44.3, 461], "paddingInner": 0, "paddingOuter": 0}, "axis": null}}},
        {"mark": {"type": "line", "color": "#5b9bd5", "strokeWidth": 2.5, "strokeJoin": "round"},
         "encoding": {"x": {"field": "period", "type": "nominal", "sort": ["January 2022", "January 2023", "February 2022", "February 2023", "March 2022", "March 2023"], "scale": {"type": "band", "range": [44.3, 461], "paddingInner": 0, "paddingOuter": 0},
                            "axis": {"orient": "bottom", "offset": -36.8, "title": null, "domain": false, "ticks": false, "grid": false, "labelAngle": 0, "labelColor": "#d9d9d9", "labelFont": "Lato", "labelFontSize": 9.2, "labelBaseline": "top", "labelPadding": 0, "labelLineHeight": 19, "labelOverlap": false, "labelBound": false, "labelFlush": false, "labelExpr": "['Tot. Ach.', split(datum.value, ' ')[0], split(datum.value, ' ')[1]]"}}}},
        {"mark": {"type": "text", "color": "#d9d9d9", "fontSize": 8.5},
         "encoding": {"x": {"field": "period", "type": "nominal", "sort": ["January 2022", "January 2023", "February 2022", "February 2023", "March 2022", "March 2023"], "scale": {"type": "band", "range": [44.3, 461], "paddingInner": 0, "paddingOuter": 0}, "axis": null},
                      "text": {"field": "value", "type": "quantitative", "format": "d"}}}
      ]
    },
    {"width": 8, "height": 223, "data": {"values": [{"k": 1}]}, "mark": {"type": "text", "text": ""}, "encoding": {}},
    {
      "width": 434,
      "height": 223,
      "view": {"fill": "#404040", "stroke": null},
      "title": {"text": "Cake", "anchor": "middle", "frame": "group", "offset": -30.3, "baseline": "middle", "fontSize": 13.5, "fontWeight": "bold", "color": "#d9d9d9", "font": "Lato"},
      "data": {"name": "sales"},
      "transform": [{"filter": "datum.product === 'Cake'"}],
      "resolve": {"axis": {"x": "independent"}},
      "encoding": {
        "y": {"field": "value", "type": "quantitative",
              "scale": {"domain": [0, 1000000], "range": [183, 17], "nice": false, "zero": false},
              "axis": {"orient": "left", "offset": -45.7, "title": null, "domain": false, "ticks": false, "grid": true, "gridColor": "#595959", "gridWidth": 1, "gridOpacity": {"condition": {"test": "datum.value === 0", "value": 0}, "value": 1}, "values": [0, 100000, 200000, 300000, 400000, 500000, 600000, 700000, 800000, 900000, 1000000], "format": "d", "labelColor": "#d9d9d9", "labelFont": "Lato", "labelFontSize": 10.5, "labelPadding": 1, "labelOverlap": false, "labelBound": false, "labelFlush": false}}
      },
      "layer": [
        {"mark": {"type": "line", "color": "#5b9bd5", "strokeWidth": 12, "opacity": 0.1, "strokeJoin": "round", "strokeCap": "round"},
         "encoding": {"x": {"field": "period", "type": "nominal", "sort": ["January 2022", "January 2023", "February 2022", "February 2023", "March 2022", "March 2023"], "scale": {"type": "band", "range": [44.7, 429.7], "paddingInner": 0, "paddingOuter": 0},
                            "axis": {"orient": "bottom", "title": null, "domain": false, "ticks": false, "labels": false, "grid": true, "gridColor": "#595959", "gridWidth": 1, "tickBand": "extent"}}}},
        {"mark": {"type": "line", "color": "#5b9bd5", "strokeWidth": 7, "opacity": 0.2, "strokeJoin": "round", "strokeCap": "round"},
         "encoding": {"x": {"field": "period", "type": "nominal", "sort": ["January 2022", "January 2023", "February 2022", "February 2023", "March 2022", "March 2023"], "scale": {"type": "band", "range": [44.7, 429.7], "paddingInner": 0, "paddingOuter": 0}, "axis": null}}},
        {"mark": {"type": "line", "color": "#5b9bd5", "strokeWidth": 2.5, "strokeJoin": "round"},
         "encoding": {"x": {"field": "period", "type": "nominal", "sort": ["January 2022", "January 2023", "February 2022", "February 2023", "March 2022", "March 2023"], "scale": {"type": "band", "range": [44.7, 429.7], "paddingInner": 0, "paddingOuter": 0},
                            "axis": {"orient": "bottom", "offset": -31.8, "title": null, "domain": false, "ticks": false, "grid": false, "labelAngle": 0, "labelColor": "#d9d9d9", "labelFont": "Lato", "labelFontSize": 9.2, "labelBaseline": "top", "labelPadding": 0, "labelLineHeight": 18.3, "labelOverlap": false, "labelBound": false, "labelFlush": false, "labelExpr": "['Tot. Ach.', split(datum.value, ' ')[0], split(datum.value, ' ')[1]]"}}}},
        {"mark": {"type": "text", "color": "#d9d9d9", "fontSize": 8.5},
         "encoding": {"x": {"field": "period", "type": "nominal", "sort": ["January 2022", "January 2023", "February 2022", "February 2023", "March 2022", "March 2023"], "scale": {"type": "band", "range": [44.7, 429.7], "paddingInner": 0, "paddingOuter": 0}, "axis": null},
                      "text": {"field": "value", "type": "quantitative", "format": "d"}}}
      ]
    }
  ]
}
